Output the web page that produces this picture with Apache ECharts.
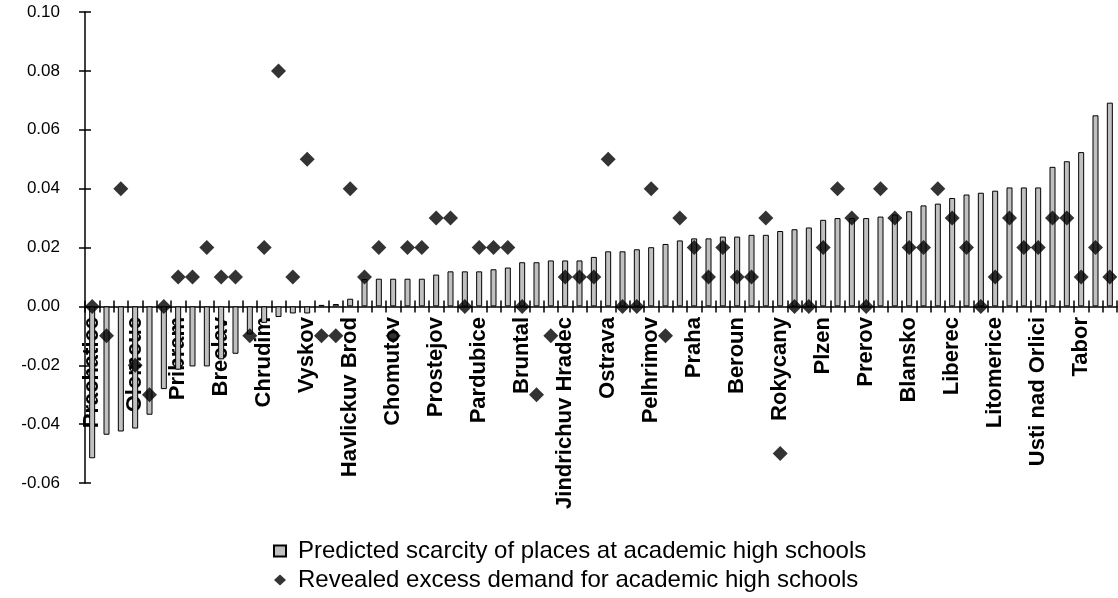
<!DOCTYPE html>
<html>
<head>
<meta charset="utf-8">
<script src="https://cdn.jsdelivr.net/npm/echarts@6/dist/echarts.min.js"></script>
<style>
  html, body { margin: 0; padding: 0; background: #ffffff; }
  #chart { width: 1118px; height: 598px; }
</style>
</head>
<body>
<div id="chart"></div>
<script>
// Districts whose names are printed on the axis (every third category)
const labelledDistricts = [
  'Prachatice', 'Olomouc', 'Pribram', 'Breclav', 'Chrudim', 'Vyskov',
  'Havlickuv Brod', 'Chomutov', 'Prostejov', 'Pardubice', 'Bruntal', 'Jindrichuv Hradec',
  'Ostrava', 'Pelhrimov', 'Praha', 'Beroun', 'Rokycany', 'Plzen',
  'Prerov', 'Blansko', 'Liberec', 'Litomerice', 'Usti nad Orlici', 'Tabor'
];

// Predicted scarcity of places (bars), 72 districts sorted ascending
const predictedScarcity = [
  -0.0516, -0.0436, -0.0425, -0.0415, -0.0368, -0.0281, -0.0215, -0.0204, -0.0204, -0.0180,
  -0.0161, -0.0095, -0.0056, -0.0036, -0.0024, -0.0024, 0.0005, 0.0008, 0.0026, 0.0093,
  0.0094, 0.0094, 0.0094, 0.0094, 0.0108, 0.0119, 0.0119, 0.0119, 0.0126, 0.0132,
  0.0150, 0.0150, 0.0156, 0.0156, 0.0156, 0.0168, 0.0187, 0.0187, 0.0194, 0.0201,
  0.0212, 0.0224, 0.0231, 0.0231, 0.0237, 0.0237, 0.0243, 0.0243, 0.0256, 0.0262,
  0.0268, 0.0294, 0.0300, 0.0300, 0.0300, 0.0305, 0.0312, 0.0323, 0.0343, 0.0349,
  0.0368, 0.0380, 0.0386, 0.0393, 0.0404, 0.0404, 0.0404, 0.0474, 0.0493, 0.0524,
  0.0649, 0.0692
];

// Revealed excess demand (diamonds)
const revealedDemand = [
  0.00, -0.01, 0.04, -0.02, -0.03, 0.00, 0.01, 0.01, 0.02, 0.01,
  0.01, -0.01, 0.02, 0.08, 0.01, 0.05, -0.01, -0.01, 0.04, 0.01,
  0.02, -0.01, 0.02, 0.02, 0.03, 0.03, 0.00, 0.02, 0.02, 0.02,
  0.00, -0.03, -0.01, 0.01, 0.01, 0.01, 0.05, 0.00, 0.00, 0.04,
  -0.01, 0.03, 0.02, 0.01, 0.02, 0.01, 0.01, 0.03, -0.05, 0.00,
  0.00, 0.02, 0.04, 0.03, 0.00, 0.04, 0.03, 0.02, 0.02, 0.04,
  0.03, 0.02, 0.00, 0.01, 0.03, 0.02, 0.02, 0.03, 0.03, 0.01,
  0.02, 0.01
];

const seriesNames = [
  'Predicted scarcity of places at academic high schools',
  'Revealed excess demand for academic high schools'
];

const categories = predictedScarcity.map((_, i) => (i % 3 === 0 ? labelledDistricts[i / 3] : ''));

const chart = echarts.init(document.getElementById('chart'), null, { renderer: 'canvas' });

const baseFont = 'Liberation Sans, Arial, sans-serif';

chart.setOption({
  animation: false,
  backgroundColor: '#ffffff',
  grid: { left: 85, right: 1, top: 12, bottom: 115, containLabel: false, outerBoundsMode: 'none' },
  legend: {
    orient: 'vertical',
    left: 273,
    top: 539,
    padding: 0,
    height: 58,
    itemWidth: 12,
    itemHeight: 11,
    itemGap: 5,
    selectedMode: false,
    textStyle: { fontFamily: baseFont, fontSize: 24, color: '#000', lineHeight: 23, padding: [0, 0, 0, 7] },
    data: [
      { name: seriesNames[0], icon: 'rect' },
      { name: seriesNames[1], icon: 'diamond' }
    ]
  },
  xAxis: [
    {
      type: 'category',
      data: categories,
      position: 'bottom',
      boundaryGap: true,
      axisLine: { onZero: true, lineStyle: { color: '#000', width: 1.5 } },
      axisTick: { show: true, interval: 0, length: 6, lineStyle: { color: '#000', width: 1.5 } },
      axisLabel: {
        interval: 2,
        rotate: 90,
        margin: -166,
        color: '#000',
        fontFamily: baseFont,
        fontWeight: 'bold',
        fontSize: 22
      },
      splitLine: { show: false }
    },
    {
      type: 'category',
      data: categories,
      position: 'bottom',
      boundaryGap: true,
      axisLine: { show: false, onZero: true },
      axisTick: { show: true, inside: true, interval: 0, length: 6, lineStyle: { color: '#000', width: 1.5 } },
      axisLabel: { show: false },
      splitLine: { show: false }
    }
  ],
  yAxis: [
    {
      type: 'value',
      min: -0.06,
      max: 0.10,
      interval: 0.02,
      position: 'left',
      axisLine: { show: true, onZero: false, lineStyle: { color: '#000', width: 1.5 } },
      axisTick: { show: true, length: 6, lineStyle: { color: '#000', width: 1.5 } },
      axisLabel: {
        margin: 25,
        color: '#000',
        fontFamily: baseFont,
        fontSize: 17,
        formatter: v => v.toFixed(2)
      },
      splitLine: { show: false }
    },
    {
      type: 'value',
      min: -0.06,
      max: 0.10,
      interval: 0.02,
      position: 'left',
      offset: 0,
      axisLine: { show: false, onZero: false },
      axisTick: { show: true, inside: true, length: 6, lineStyle: { color: '#000', width: 1.5 } },
      axisLabel: { show: false },
      splitLine: { show: false }
    }
  ],
  series: [
    {
      name: seriesNames[0],
      type: 'bar',
      xAxisIndex: 0,
      yAxisIndex: 0,
      data: predictedScarcity,
      barWidth: 6,
      itemStyle: { color: '#c0c0c0', borderColor: '#000', borderWidth: 1 }
    },
    {
      name: seriesNames[1],
      type: 'scatter',
      xAxisIndex: 0,
      yAxisIndex: 0,
      data: revealedDemand,
      symbol: 'diamond',
      symbolSize: 15,
      itemStyle: { color: '#000' }
    }
  ]
});
</script>
</body>
</html>
